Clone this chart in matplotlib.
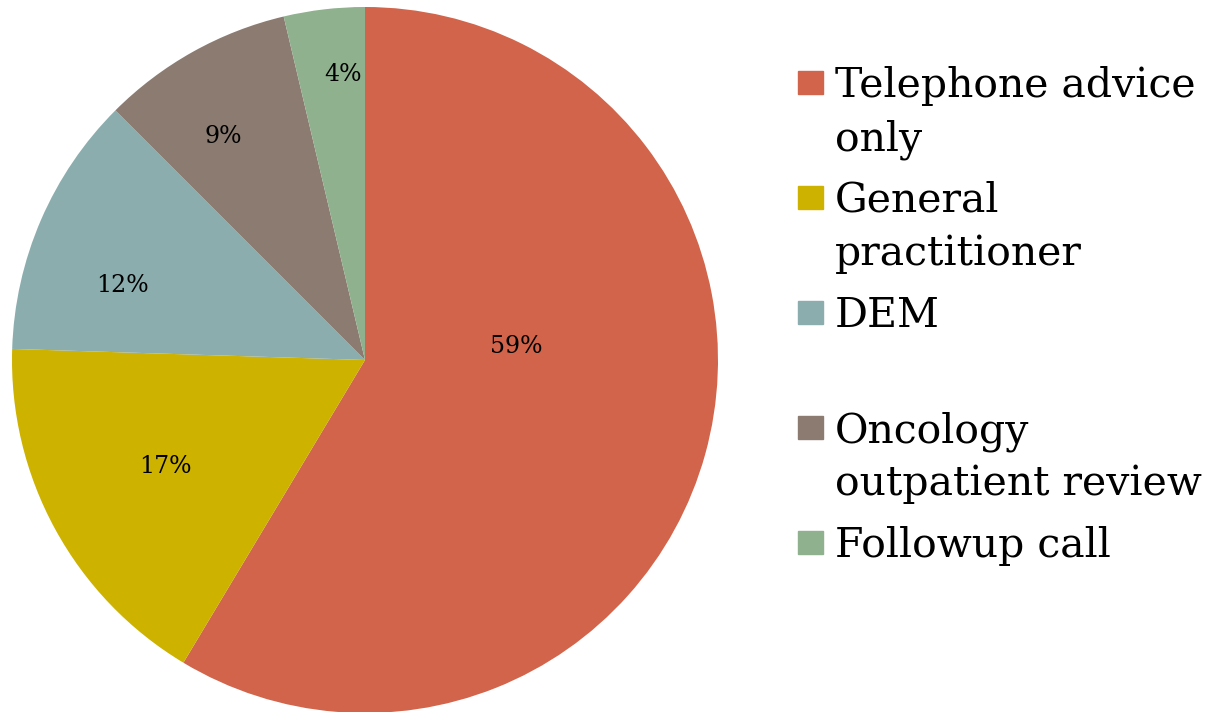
import numpy as np
import matplotlib.pyplot as plt
from matplotlib.patches import Rectangle

# share of calls by outcome (percent)
categories = ['Telephone advice\nonly', 'General\npractitioner', 'DEM',
              'Oncology\noutpatient review', 'Followup call']
values = [58.6, 16.9, 12.0, 8.8, 3.7]
colors = ['#D1644A', '#CDB200', '#8BADAE', '#8B7B71', '#8FB18E']

plt.rcParams['font.family'] = ['DejaVu Serif']

fig = plt.figure(figsize=(12.15, 7.12), dpi=100)
W, H = 1215, 712

# pie: centre (365, 360) px, radius 353 px
cx, cy, r = 365, 360, 353
ax = fig.add_axes([(cx - r) / W, (H - cy - r) / H, 2 * r / W, 2 * r / H])
wedges, texts, pcts = ax.pie(values, colors=colors, startangle=90, counterclock=False,
                             autopct='%.0f%%', pctdistance=0.72,
                             textprops={'fontsize': 17, 'color': 'black'},
                             wedgeprops={'linewidth': 0})
ax.set_xlim(-1, 1)
ax.set_ylim(-1, 1)
ax.set_aspect('equal')

# label placement as in the original (best-fit): radius, angle in degrees
lab_r = [0.43, 0.64, 0.72, 0.75, 0.81]
lab_a = [5.0, 208.0, 163.0, 122.4, 94.4]
for t, d, a in zip(pcts, lab_r, lab_a):
    t.set_position((d * np.cos(np.deg2rad(a)), d * np.sin(np.deg2rad(a))))

# legend drawn by hand so each entry takes the same height
for i, (lab, col) in enumerate(zip(categories, colors)):
    base = 97 + 115 * i
    fig.patches.append(Rectangle((798 / W, 1 - (base - 3) / H), 25 / W, 23 / H,
                                 transform=fig.transFigure, color=col))
    for j, line in enumerate(lab.split('\n')):
        fig.text(835 / W, 1 - (base + 53 * j) / H, line, fontsize=29.5,
                 va='baseline', ha='left')

fig.savefig('out.png', dpi=100)
